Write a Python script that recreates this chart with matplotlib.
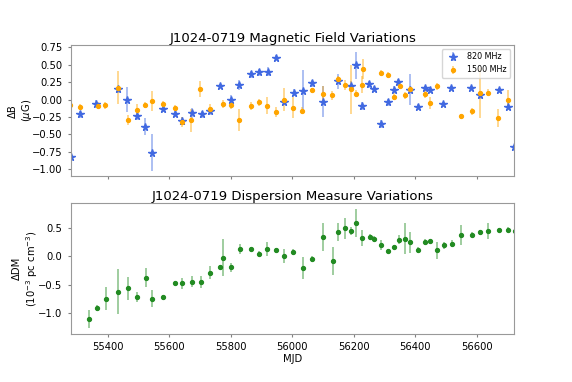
import matplotlib
matplotlib.use('Agg')
import matplotlib.pyplot as plt
import numpy as np

# 820 MHz magnetic field points
mjd_820 = [55282, 55311, 55363, 55433, 55464, 55495, 55522, 55545, 55581, 55619,
           55642, 55675, 55706, 55733, 55765, 55801, 55828, 55865, 55893, 55920,
           55948, 55973, 56004, 56035, 56065, 56099, 56150, 56191, 56208, 56227,
           56249, 56267, 56287, 56311, 56330, 56345, 56384, 56409, 56430, 56449,
           56490, 56517, 56582, 56610, 56673, 56702, 56721]
db_820 = [-0.83, -0.21, -0.06, 0.15, 0.00, -0.23, -0.39, -0.76, -0.14, -0.21,
          -0.31, -0.19, -0.21, -0.17, 0.19, 0.00, 0.21, 0.36, 0.39, 0.40,
          0.60, -0.03, 0.10, 0.12, 0.23, -0.03, 0.26, 0.20, 0.49, -0.09,
          0.22, 0.15, -0.35, -0.04, 0.14, 0.25, 0.14, -0.11, 0.16, 0.13,
          -0.07, 0.16, 0.16, 0.06, 0.13, -0.10, -0.68]
err_820 = [0.04, 0.05, 0.05, 0.05, 0.18, 0.06, 0.12, 0.26, 0.04, 0.04,
           0.06, 0.07, 0.05, 0.05, 0.03, 0.06, 0.07, 0.05, 0.05, 0.07,
           0.04, 0.05, 0.05, 0.30, 0.05, 0.22, 0.11, 0.06, 0.19, 0.06,
           0.05, 0.04, 0.06, 0.05, 0.05, 0.05, 0.22, 0.04, 0.04, 0.04,
           0.04, 0.03, 0.03, 0.05, 0.04, 0.05, 0.03]

# 1500 MHz magnetic field points
mjd_1500 = [55279, 55309, 55368, 55392, 55433, 55466, 55495, 55522, 55545, 55581,
            55619, 55642, 55672, 55701, 55732, 55774, 55800, 55826, 55866, 55893,
            55919, 55948, 55973, 56002, 56033, 56064, 56101, 56130, 56148, 56170,
            56191, 56207, 56229, 56226, 56287, 56311, 56330, 56350, 56365, 56384,
            56430, 56449, 56470, 56547, 56583, 56611, 56635, 56667, 56700]
db_1500 = [-0.08, -0.11, -0.09, -0.08, 0.17, -0.29, -0.15, -0.08, -0.02, -0.06,
           -0.12, -0.32, -0.30, 0.15, -0.14, -0.06, -0.08, -0.29, -0.09, -0.04,
           -0.09, -0.18, 0.00, -0.12, -0.16, 0.13, 0.08, 0.06, 0.29, 0.21,
           0.15, 0.08, 0.44, 0.21, 0.38, 0.35, 0.04, 0.19, 0.06, 0.15,
           0.08, -0.05, 0.19, -0.24, -0.17, 0.09, 0.10, -0.26, -0.01]
err_1500 = [0.05, 0.04, 0.05, 0.05, 0.24, 0.07, 0.08, 0.04, 0.14, 0.04,
            0.04, 0.07, 0.16, 0.11, 0.07, 0.06, 0.06, 0.16, 0.06, 0.05,
            0.12, 0.07, 0.17, 0.15, 0.05, 0.04, 0.12, 0.06, 0.05, 0.07,
            0.35, 0.05, 0.14, 0.12, 0.05, 0.04, 0.05, 0.04, 0.05, 0.04,
            0.06, 0.09, 0.05, 0.04, 0.05, 0.36, 0.05, 0.13, 0.14]

# dispersion measure points
mjd_dm = [55341, 55366, 55395, 55434, 55466, 55495, 55524, 55545, 55581, 55619,
          55643, 55674, 55704, 55734, 55766, 55775, 55802, 55829, 55866, 55893,
          55919, 55948, 55973, 56002, 56035, 56065, 56101, 56131, 56150, 56171,
          56191, 56208, 56228, 56251, 56266, 56287, 56311, 56329, 56347, 56366,
          56384, 56409, 56430, 56449, 56471, 56492, 56520, 56548, 56583, 56611,
          56636, 56671, 56702, 56723]
ddm = [-1.11, -0.92, -0.75, -0.63, -0.57, -0.72, -0.38, -0.75, -0.73, -0.47,
       -0.48, -0.45, -0.46, -0.29, -0.19, -0.02, -0.19, 0.14, 0.13, 0.05,
       0.13, 0.11, 0.01, 0.08, -0.21, -0.05, 0.35, -0.08, 0.43, 0.50,
       0.46, 0.60, 0.33, 0.35, 0.32, 0.20, 0.10, 0.17, 0.30, 0.32,
       0.25, 0.12, 0.26, 0.27, 0.11, 0.20, 0.23, 0.38, 0.39, 0.43,
       0.45, 0.47, 0.48, 0.45]
err_dm = [0.16, 0.06, 0.21, 0.40, 0.20, 0.09, 0.17, 0.15, 0.05, 0.04,
          0.10, 0.10, 0.11, 0.12, 0.04, 0.33, 0.08, 0.09, 0.04, 0.05,
          0.13, 0.04, 0.12, 0.06, 0.20, 0.05, 0.25, 0.25, 0.16, 0.18,
          0.07, 0.25, 0.14, 0.05, 0.04, 0.09, 0.04, 0.04, 0.08, 0.28,
          0.18, 0.05, 0.06, 0.05, 0.15, 0.06, 0.06, 0.18, 0.04, 0.04,
          0.14, 0.04, 0.04, 0.04]

fig, (ax1, ax2) = plt.subplots(2, 1, figsize=(5.72, 3.82), dpi=100, sharex=True)
fig.subplots_adjust(left=0.124, right=0.899, top=0.882, bottom=0.126, hspace=0.2)

ax1.errorbar(mjd_820, db_820, yerr=err_820, fmt='*', color='royalblue',
             ms=5.5, elinewidth=1.2, ecolor=(0.25, 0.41, 0.88, 0.5), label='820 MHz')
ax1.errorbar(mjd_1500, db_1500, yerr=err_1500, fmt='o', color='orange',
             ms=2.8, elinewidth=1.2, ecolor=(1.0, 0.65, 0.0, 0.5), label='1500 MHz')
ax1.set_title('J1024-0719 Magnetic Field Variations', fontsize=9.5, pad=1.5)
ax1.set_ylabel('ΔB\n($\\mu$G)', fontsize=7.2, labelpad=-1.5)
ax1.set_ylim(-1.1, 0.78)
ax1.set_yticks(np.arange(-1.0, 0.76, 0.25))
ax1.legend(loc='upper right', fontsize=5.8, framealpha=0.8)

ax2.errorbar(mjd_dm, ddm, yerr=err_dm, fmt='o', color='forestgreen',
             ms=2.8, elinewidth=1.2, ecolor=(0.13, 0.55, 0.13, 0.5))
ax2.set_title('J1024-0719 Dispersion Measure Variations', fontsize=9.5, pad=1.5)
ax2.set_ylabel('ΔDM\n(10$^{-3}$ pc cm$^{-3}$)', fontsize=7.2, labelpad=-1.5)
ax2.set_xlabel('MJD', fontsize=7.2, labelpad=1)
ax2.set_ylim(-1.38, 0.96)
ax2.set_yticks([-1.0, -0.5, 0.0, 0.5])
ax2.set_xlim(55281, 56721)
ax2.set_xticks([55400, 55600, 55800, 56000, 56200, 56400, 56600])

for ax in (ax1, ax2):
    ax.tick_params(labelsize=7.2, color='0.5', length=2.5)
    for s in ax.spines.values():
        s.set_color('0.6')

plt.savefig('out.png', dpi=100)
